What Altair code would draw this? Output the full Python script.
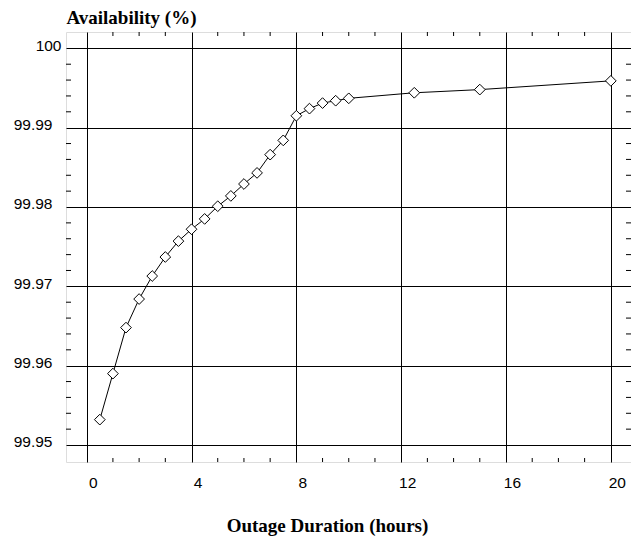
import altair as alt
import pandas as pd

# Data
hours = [0.5, 1, 1.5, 2, 2.5, 3, 3.5, 4, 4.5, 5, 5.5, 6, 6.5, 7, 7.5, 8,
         8.5, 9, 9.5, 10, 12.5, 15, 20]
availability = [99.9532, 99.9590, 99.9648, 99.9684, 99.9713, 99.9737, 99.9757,
                99.9772, 99.9785, 99.9801, 99.9814, 99.9829, 99.9843, 99.9866,
                99.9884, 99.9915, 99.9924, 99.9931, 99.9934, 99.9937, 99.9944,
                99.9948, 99.9959]

x_major = [0, 4, 8, 12, 16, 20]
x_minor = [1, 2, 3, 5, 6, 7, 9, 10, 11, 13, 14, 15, 17, 18, 19]
y_major = [99.95, 99.96, 99.97, 99.98, 99.99, 100.0]
y_labels = ["99.95", "99.96", "99.97", "99.98", "99.99", "100"]
y_minor = [99.952, 99.954, 99.956, 99.958, 99.962, 99.964, 99.966, 99.968,
           99.972, 99.974, 99.976, 99.978, 99.982, 99.984, 99.986, 99.988,
           99.992, 99.994, 99.996, 99.998]

W, H = 565, 430
x_dom = [-0.79, 20.77]
y_dom = [99.94786, 100.00206]

df = pd.DataFrame({"h": hours, "a": availability})
xs = alt.Scale(domain=x_dom, nice=False, zero=False)
ys = alt.Scale(domain=y_dom, nice=False, zero=False)

label_font = "Liberation Sans"
title_font = "Liberation Serif"

x_axis = alt.Axis(values=x_major, grid=True, gridColor="black", gridWidth=1,
                  ticks=False, tickSize=0, domain=False,
                  labelFont=label_font, labelFontSize=15.5, labelColor="black",
                  labelPadding=13, labelOffset=6, labelFlush=False,
                  title="Outage Duration (hours)", titleFont=title_font,
                  titleFontSize=19, titleFontWeight="bold", titleColor="black",
                  titleX=261, titleY=69, titleAlign="center",
                  titleBaseline="alphabetic", titleAnchor="start")
y_axis = alt.Axis(values=y_major, grid=True, gridColor="black", gridWidth=1,
                  ticks=False, tickSize=0, domain=False, labels=False,
                  title="Availability (%)", titleFont=title_font,
                  titleFontSize=19, titleFontWeight="bold", titleColor="black",
                  titleAngle=0, titleX=0, titleY=-9, titleAlign="left",
                  titleBaseline="alphabetic", titleAnchor="start")

line = alt.Chart(df).mark_line(color="black", strokeWidth=1).encode(
    x=alt.X("h:Q", scale=xs, axis=x_axis),
    y=alt.Y("a:Q", scale=ys, axis=y_axis),
)
pts = alt.Chart(df).mark_point(shape="diamond", size=115, filled=False,
                               fill="white", fillOpacity=1, stroke="black",
                               strokeWidth=1, opacity=1).encode(
    x=alt.X("h:Q", scale=xs), y=alt.Y("a:Q", scale=ys))

xm = pd.DataFrame({"v": x_minor})
ym = pd.DataFrame({"v": y_minor})
tick_top = alt.Chart(xm).mark_rule(color="black", strokeWidth=1).encode(
    x=alt.X("v:Q", scale=xs), y=alt.value(0), y2=alt.value(4))
tick_bot = alt.Chart(xm).mark_rule(color="black", strokeWidth=1).encode(
    x=alt.X("v:Q", scale=xs), y=alt.value(H - 4), y2=alt.value(H))
tick_left = alt.Chart(ym).mark_rule(color="black", strokeWidth=1).encode(
    y=alt.Y("v:Q", scale=ys), x=alt.value(0), x2=alt.value(5))
tick_right = alt.Chart(ym).mark_rule(color="black", strokeWidth=1).encode(
    y=alt.Y("v:Q", scale=ys), x=alt.value(W - 5), x2=alt.value(W))

yl = pd.DataFrame({"v": y_major, "t": y_labels})
ylab_main = alt.Chart(yl).transform_filter("datum.v < 99.999").mark_text(
    align="right", baseline="alphabetic", dy=2.2, font=label_font,
    fontSize=15.5, color="black").encode(
    y=alt.Y("v:Q", scale=ys), x=alt.value(-13.5), text="t:N")
ylab_top = alt.Chart(yl).transform_filter("datum.v >= 99.999").mark_text(
    align="right", baseline="alphabetic", dy=2.2, font=label_font,
    fontSize=15.5, color="black").encode(
    y=alt.Y("v:Q", scale=ys), x=alt.value(-4.5), text="t:N")

chart = alt.layer(line, tick_top, tick_bot, tick_left, tick_right, pts,
                  ylab_main, ylab_top).properties(
    width=W, height=H,
    autosize=alt.AutoSizeParams(type="none"),
    padding={"left": 58, "top": 24, "right": 0, "bottom": 78},
).configure_view(stroke="#333", strokeWidth=1.5).configure(background="white")

chart.save("out.html", embed_options={"renderer": "svg", "actions": False})
